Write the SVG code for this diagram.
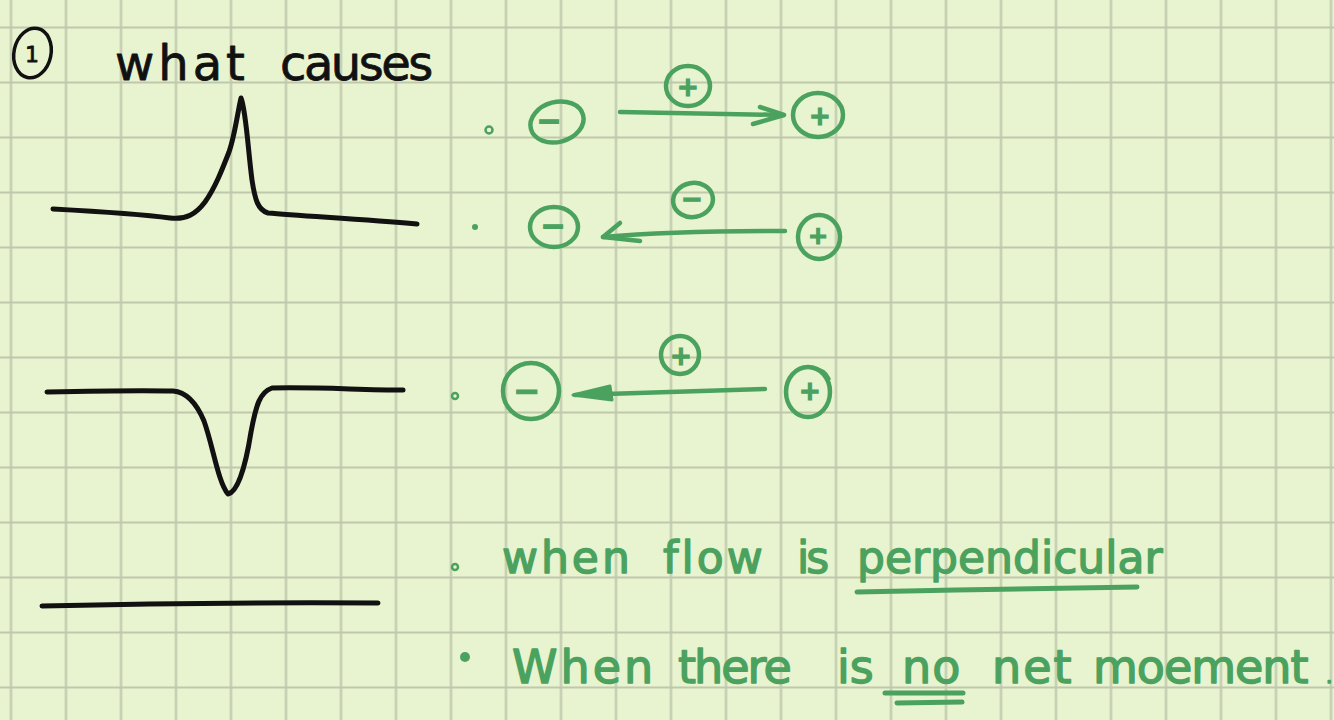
<svg xmlns="http://www.w3.org/2000/svg" width="1334" height="720" viewBox="0 0 1334 720">
<defs>
<pattern id="grid" x="-16.5" y="0" width="55" height="55" patternUnits="userSpaceOnUse">
<path d="M27.5,0 V55 M0,27.5 H55" stroke="#bfc8ad" stroke-width="2.2" fill="none"/>
</pattern>
</defs>
<style>
.ink{fill:none;stroke:#111;stroke-width:5;stroke-linecap:round;stroke-linejoin:round}
.g{fill:none;stroke:#4ba25f;stroke-width:4.5;stroke-linecap:round;stroke-linejoin:round}
.gf{fill:#4ba25f;stroke:#4ba25f;stroke-width:3;stroke-linejoin:round}
.sign{font-family:"DejaVu Sans",sans-serif;font-weight:bold;fill:#4ba25f;stroke:#4ba25f;stroke-width:1.2;text-anchor:middle;dominant-baseline:central}
.note{font-family:"DejaVu Sans",sans-serif;fill:#4ba25f;stroke:#4ba25f;stroke-width:1.4;stroke-linejoin:round}
.title{font-family:"DejaVu Sans",sans-serif;fill:#111;stroke:#111;stroke-width:0.8;stroke-linejoin:round}
</style>
<rect width="1334" height="720" fill="#e8f3cf"/>
<rect width="1334" height="720" fill="url(#grid)"/>

<g id="title">
<ellipse cx="32.5" cy="53" rx="18.5" ry="25" transform="rotate(12 32.5 53)" class="ink" style="stroke-width:3.5"/>
<text x="32" y="62" class="title" font-size="22" text-anchor="middle">1</text>
<text y="80" class="title" font-size="48"><tspan x="115" letter-spacing="4">what</tspan><tspan x="280" letter-spacing="-2.5">causes</tspan></text>
</g>

<g id="curve-peak">
<path class="ink" d="M53,209 C90,211 140,214 170,218 C186,220 196,214 205,202 C215,188 222,170 229,152 C235,135 238,110 241,98 C246,110 248,150 252,180 C255,200 258,210 268,213 C300,216 360,219 417,224"/>
</g>
<g id="curve-trough">
<path class="ink" d="M47,392 C90,391 140,390 173,391 C186,392 196,402 204,421 C213,446 218,482 228,494 C237,492 245,470 251,432 C256,405 260,392 272,388 C320,387 360,390 403,390"/>
</g>
<g id="curve-flat">
<path class="ink" d="M42,606 Q210,602 378,603"/>
</g>

<g id="row1">
<circle cx="489" cy="130" r="3.5" class="g" style="stroke-width:2.5"/>
<ellipse cx="557" cy="122" rx="27" ry="20" transform="rotate(-15 557 122)" class="g"/>
<text x="549" y="120" class="sign" font-size="30">−</text>
<ellipse cx="688" cy="86" rx="22" ry="20" class="g"/>
<text x="688" y="87" class="sign" font-size="26">+</text>
<ellipse cx="818" cy="115" rx="25" ry="22" class="g"/>
<text x="820" y="116" class="sign" font-size="26">+</text>
</g>

<g id="row2">
<circle cx="475" cy="227" r="3" fill="#4ba25f"/>
<ellipse cx="554" cy="227" rx="24" ry="20" class="g"/>
<text x="553" y="225" class="sign" font-size="30">−</text>
<ellipse cx="693" cy="200" rx="20" ry="17" transform="rotate(-10 693 200)" class="g"/>
<text x="692" y="199" class="sign" font-size="26">−</text>
<ellipse cx="819" cy="237" rx="21" ry="22" class="g"/>
<text x="818" y="236" class="sign" font-size="24">+</text>
</g>

<g id="row3">
<circle cx="455" cy="396" r="3" class="g" style="stroke-width:2.5"/>
<circle cx="531" cy="391" r="28" class="g"/>
<text x="527" y="391" class="sign" font-size="32">−</text>
<circle cx="680" cy="355" r="19" class="g"/>
<text x="681" y="356" class="sign" font-size="26">+</text>
<ellipse cx="808" cy="392" rx="22" ry="25" class="g"/>
<text x="810" y="391" class="sign" font-size="26">+</text>
<path class="g" style="stroke-width:3.5" d="M812,368 Q825,369 829,379"/>
</g>

<g id="connectors">
<path class="g" d="M620,112 L783,115"/>
<path class="g" d="M760,107 L784,115 L753,124"/>
<path class="g" d="M785,231 C720,231 650,233 603,237"/>
<path class="g" d="M620,223 L603,237 L640,241"/>
<path class="g" d="M765,389 L575,395"/>
<path class="gf" d="M573,395 L610,386 L612,400 Z"/>
</g>

<g id="note1">
<circle cx="455" cy="567" r="3" class="g" style="stroke-width:2.5"/>
<text y="573" class="note" font-size="44"><tspan x="502" letter-spacing="3">when</tspan><tspan x="663" letter-spacing="3">flow</tspan><tspan x="797" letter-spacing="-3">is</tspan><tspan x="857" letter-spacing="0">perpendicular</tspan></text>
<path class="g" style="stroke-width:5" d="M857,592 C950,590 1050,588 1137,587"/>
</g>

<g id="note2">
<circle cx="465" cy="657" r="5" fill="#4ba25f"/>
<text y="683" class="note" font-size="46"><tspan x="512" letter-spacing="3">When</tspan><tspan x="678" letter-spacing="-2">there</tspan><tspan x="837" letter-spacing="0">is</tspan><tspan x="902" letter-spacing="1">no</tspan><tspan x="992" letter-spacing="2">net</tspan><tspan x="1093" letter-spacing="-1">moement</tspan><tspan x="1326" font-size="20">.</tspan></text>
<path class="g" style="stroke-width:5" d="M885,693 L963,693 M897,703 L962,702"/>
</g>
</svg>
